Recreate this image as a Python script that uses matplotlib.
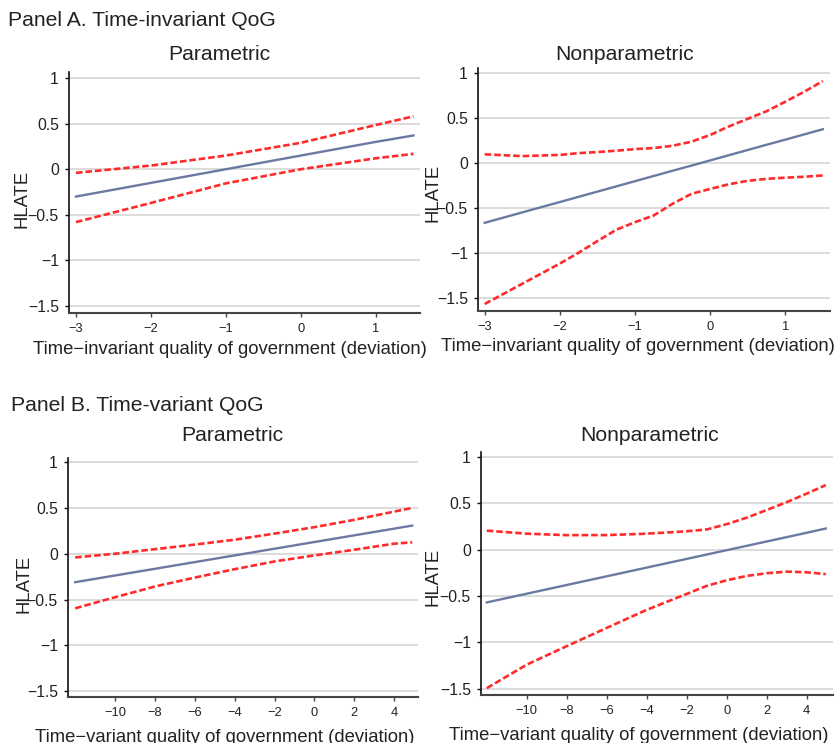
import matplotlib
matplotlib.use("Agg")
import matplotlib.pyplot as plt

plt.rcParams["font.family"] = ["Liberation Sans", "DejaVu Sans"]

# -----------------------------
# Data
# -----------------------------
# Panel A, parametric (time-invariant QoG)
a_par_x = [-3, -2, -1, 0, 1, 1.5]
a_par_mid = [-0.30, -0.15, 0.00, 0.15, 0.30, 0.37]
a_par_hi = [-0.04, 0.04, 0.15, 0.29, 0.485, 0.58]
a_par_lo = [-0.58, -0.37, -0.155, 0.0, 0.12, 0.168]

# Panel A, nonparametric
a_np_x = [-3, -2.5, -2, -1.75, -1.5, -1.25, -1, -0.75, -0.5, -0.25, 0, 0.25, 0.5, 0.75, 1, 1.25, 1.5]
a_np_mid = [-0.667, -0.551, -0.436, -0.378, -0.32, -0.262, -0.204, -0.146, -0.088, -0.031, 0.027,
            0.085, 0.143, 0.201, 0.258, 0.316, 0.374]
a_np_hi = [0.095, 0.075, 0.088, 0.108, 0.12, 0.135, 0.153, 0.165, 0.19, 0.235, 0.31,
           0.405, 0.49, 0.574, 0.68, 0.79, 0.91]
a_np_lo = [-1.57, -1.345, -1.12, -1.0, -0.87, -0.745, -0.66, -0.585, -0.455, -0.345, -0.29,
           -0.238, -0.2, -0.178, -0.165, -0.155, -0.14]

# Panel B, parametric (time-variant QoG)
b_par_x = [-12, -10, -8, -6, -4, -2, 0, 2, 4, 4.9]
b_par_mid = [-0.31, -0.237, -0.164, -0.091, -0.018, 0.055, 0.128, 0.201, 0.274, 0.307]
b_par_hi = [-0.04, 0.0, 0.05, 0.10, 0.153, 0.22, 0.29, 0.37, 0.46, 0.50]
b_par_lo = [-0.595, -0.474, -0.357, -0.26, -0.168, -0.084, -0.018, 0.044, 0.11, 0.124]

# Panel B, nonparametric
b_np_x = [-12, -10, -8, -6, -4, -2, -1, 0, 1, 2, 3, 4, 4.95]
b_np_mid = [-0.57, -0.476, -0.382, -0.288, -0.194, -0.1, -0.053, -0.006, 0.041, 0.088, 0.135, 0.182, 0.228]
b_np_hi = [0.205, 0.172, 0.156, 0.157, 0.172, 0.198, 0.218, 0.275, 0.345, 0.428, 0.513, 0.605, 0.697]
b_np_lo = [-1.496, -1.242, -1.042, -0.845, -0.65, -0.478, -0.391, -0.331, -0.284, -0.255, -0.238, -0.245, -0.265]

y_ticks = [-1.5, -1, -0.5, 0, 0.5, 1]
y_labels = ["\u22121.5", "\u22121", "\u22120.5", "0", "0.5", "1"]
a_xticks = [-3, -2, -1, 0, 1]
b_xticks = [-10, -8, -6, -4, -2, 0, 2, 4]

W, H = 838, 743
BLUE = "#6a7aa2"
RED = "#ff2b2b"
TXT = "#222222"

fig = plt.figure(figsize=(W / 100, H / 100), dpi=100)


def px_axes(left, top, right, bottom):
    return fig.add_axes([left / W, 1 - bottom / H, (right - left) / W, (bottom - top) / H])


def ftext(x, y, s, **kw):
    fig.text(x / W, 1 - y / H, s, color=TXT, **kw)


def draw_panel(ax, x, mid, hi, lo, xticks, xlim, ylim):
    for yv in y_ticks:
        ax.axhline(yv, color="#d5d5d5", lw=1.2, zorder=0)
    ax.plot(x, hi, color=RED, lw=1.9, linestyle=(0, (2.5, 1.1)), zorder=3)
    ax.plot(x, lo, color=RED, lw=1.9, linestyle=(0, (2.5, 1.1)), zorder=3)
    ax.plot(x, mid, color=BLUE, lw=1.7, zorder=4)
    ax.set_xlim(*xlim)
    ax.set_ylim(*ylim)
    ax.set_yticks(y_ticks)
    ax.set_yticklabels(y_labels)
    ax.set_xticks(xticks)
    ax.set_xticklabels([str(t).replace("-", "\u2212") for t in xticks])
    for s in ["top", "right"]:
        ax.spines[s].set_visible(False)
    ax.spines["left"].set_color("#111111")
    ax.spines["left"].set_linewidth(1.2)
    ax.spines["bottom"].set_color("#444444")
    ax.spines["bottom"].set_linewidth(1.5)
    ax.tick_params(axis="y", direction="out", length=3, width=1, pad=4.3,
                   labelsize=11.3, colors="#111111", labelcolor=TXT)
    ax.tick_params(axis="x", direction="out", length=3, width=1, pad=4.3,
                   labelsize=9.3, colors="#444444", labelcolor=TXT)
    ax.set_facecolor("white")


# Panel A
ax1 = px_axes(69, 72, 420, 313)
draw_panel(ax1, a_par_x, a_par_mid, a_par_hi, a_par_lo, a_xticks, (-3.093, 1.587), (-1.577, 1.066))
ax2 = px_axes(478, 68, 830, 311)
draw_panel(ax2, a_np_x, a_np_mid, a_np_hi, a_np_lo, a_xticks, (-3.089, 1.595), (-1.648, 1.055))

# Panel B
ax3 = px_axes(68, 458, 418, 697)
draw_panel(ax3, b_par_x, b_par_mid, b_par_hi, b_par_lo, b_xticks, (-12.36, 5.19), (-1.562, 1.044))
ax4 = px_axes(481, 452, 833, 695)
draw_panel(ax4, b_np_x, b_np_mid, b_np_hi, b_np_lo, b_xticks, (-12.29, 5.31), (-1.57, 1.054))

# Titles and labels
ftext(8, 21, "Panel A. Time-invariant QoG", fontsize=15.2, ha="left", va="center")
ftext(219, 54, "Parametric", fontsize=15.2, ha="center", va="center")
ftext(625, 54, "Nonparametric", fontsize=15.2, ha="center", va="center")
ftext(11, 406, "Panel B. Time-variant QoG", fontsize=15.2, ha="left", va="center")
ftext(232, 436, "Parametric", fontsize=15.2, ha="center", va="center")
ftext(650, 436, "Nonparametric", fontsize=15.2, ha="center", va="center")

ftext(230, 349, "Time\u2212invariant quality of government (deviation)", fontsize=13.3, ha="center", va="center")
ftext(638, 347, "Time\u2212invariant quality of government (deviation)", fontsize=13.3, ha="center", va="center")
ftext(225, 737, "Time\u2212variant quality of government (deviation)", fontsize=13.3, ha="center", va="center")
ftext(639, 735, "Time\u2212variant quality of government (deviation)", fontsize=13.3, ha="center", va="center")

ftext(22, 199, "HLATE", fontsize=13.3, rotation=90, ha="center", va="center")
ftext(433, 193, "HLATE", fontsize=13.3, rotation=90, ha="center", va="center")
ftext(24, 584, "HLATE", fontsize=13.3, rotation=90, ha="center", va="center")
ftext(433, 577, "HLATE", fontsize=13.3, rotation=90, ha="center", va="center")

fig.savefig("out.png", dpi=100, facecolor="white")
